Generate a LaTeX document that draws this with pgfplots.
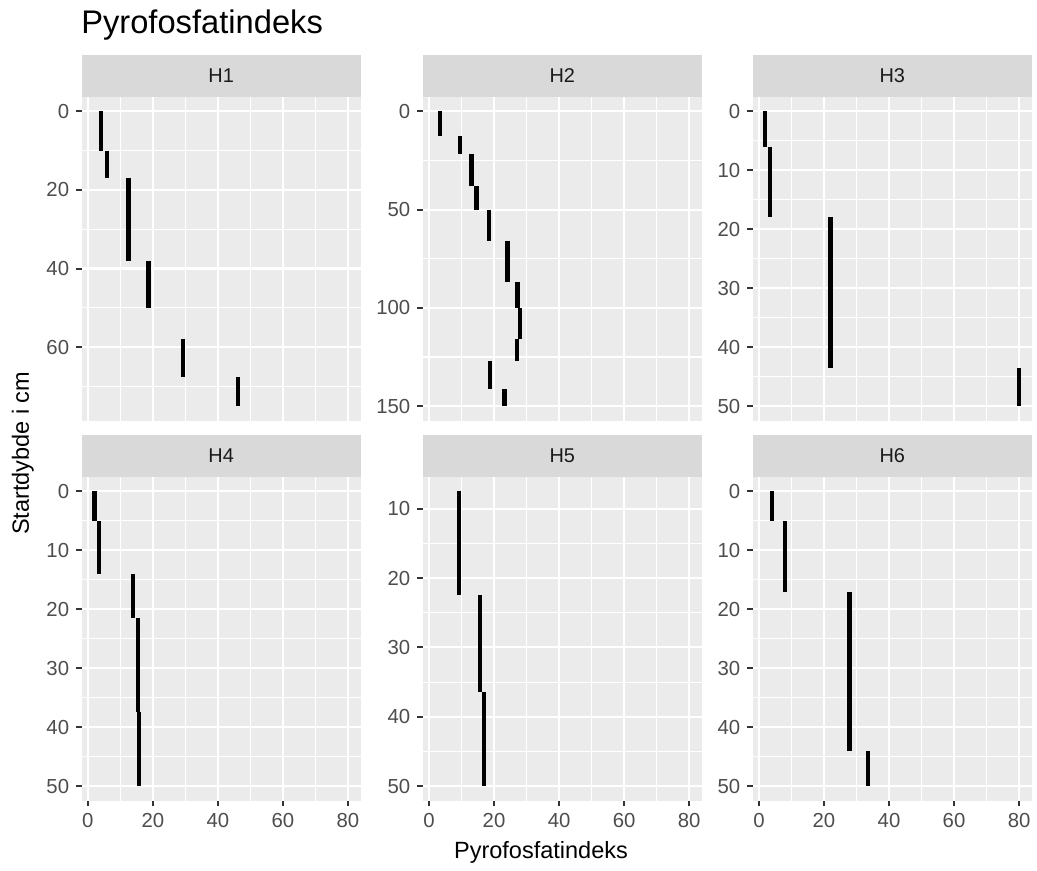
\documentclass[border=0pt]{standalone}
\usepackage{pgfplots}
\pgfplotsset{compat=1.18}
\usepackage{fontspec}
\setmainfont{Liberation Sans}
\definecolor{panelbg}{HTML}{EBEBEB}
\definecolor{stripbg}{HTML}{D9D9D9}
\definecolor{ticklab}{HTML}{4D4D4D}
\definecolor{tickcol}{HTML}{333333}
\definecolor{striptext}{HTML}{1A1A1A}
\pgfplotsset{
  facet/.style={
    scale only axis, width=140pt, height=162.7pt, anchor=north west,
    axis background/.style={fill=panelbg},
    axis line style={draw=none},
    y dir=reverse,
    xmin=-1.9, xmax=83.9,
    xtick={0,20,40,60,80}, minor xtick={10,30,50,70},
    grid=both,
    major grid style={white, line width=1.1pt},
    minor grid style={white, line width=0.55pt},
    tick align=outside, tick pos=left,
    major tick length=2.8pt, minor tick length=0pt,
    every tick/.append style={tickcol, line width=1pt},
    ticklabel style={font=\fontsize{10.2}{12}\selectfont, text=ticklab},
    /pgf/number format/assume math mode=true,
  },
  seg/.style={black, line width=2.2pt, line cap=butt, unbounded coords=jump, mark=none},
  toprow/.style={xticklabels={}, xtick style={draw=none}},
}
\newcommand{\strip}[2]{%
  \fill[stripbg] (#1.north west) rectangle ([yshift=21pt]#1.north east);
  \node[font=\fontsize{10}{12}\selectfont, text=striptext] at ([yshift=10.5pt]#1.north) {#2};
}
\begin{document}
\begin{tikzpicture}
\path (0,0) rectangle (518.5pt,-436pt);
\node[anchor=base west, inner sep=0pt, font=\fontsize{16.4}{19}\selectfont] at (40.6pt,-16.6pt) {Pyrofosfatindeks};

% H1
\begin{axis}[facet, toprow, name=h1, at={(41pt,-48.5pt)},
  ymin=-3.75, ymax=78.75, ytick={0,20,40,60}, minor ytick={10,30,50,70}]
\addplot[seg] coordinates {(4.1,0) (4.1,10) (nan,nan) (5.8,10) (5.8,17) (nan,nan)
  (12.5,17) (12.5,38) (nan,nan) (18.6,38) (18.6,50) (nan,nan)
  (29.2,58) (29.2,67.5) (nan,nan) (46.1,67.5) (46.1,75)};
\end{axis}
\strip{h1}{H1}

% H2
\begin{axis}[facet, toprow, name=h2, at={(212.2pt,-48.5pt)},
  ymin=-7.5, ymax=157.5, ytick={0,50,100,150}, minor ytick={25,75,125}]
\addplot[seg] coordinates {(3.3,0) (3.3,12.5) (nan,nan) (9.6,12.5) (9.6,21.5) (nan,nan)
  (13.1,21.5) (13.1,38) (nan,nan) (14.6,38) (14.6,50) (nan,nan)
  (18.5,50) (18.5,66) (nan,nan) (24.2,66) (24.2,87) (nan,nan)
  (27.2,87) (27.2,100) (nan,nan) (28,100) (28,116) (nan,nan)
  (27.1,116) (27.1,127) (nan,nan) (18.7,127) (18.7,141.5) (nan,nan)
  (23.2,141.5) (23.2,150)};
\end{axis}
\strip{h2}{H2}

% H3
\begin{axis}[facet, toprow, name=h3, at={(377.8pt,-48.5pt)},
  ymin=-2.5, ymax=52.5, ytick={0,10,20,30,40,50}, minor ytick={5,15,25,35,45}]
\addplot[seg] coordinates {(1.8,0) (1.8,6) (nan,nan) (3.3,6) (3.3,18) (nan,nan)
  (22,18) (22,43.5) (nan,nan) (80,43.5) (80,50)};
\end{axis}
\strip{h3}{H3}

% H4
\begin{axis}[facet, name=h4, at={(41pt,-239.2pt)},
  ymin=-2.5, ymax=52.5, ytick={0,10,20,30,40,50}, minor ytick={5,15,25,35,45}]
\addplot[seg] coordinates {(2.0,0) (2.0,5) (nan,nan) (3.5,5) (3.5,14) (nan,nan)
  (13.9,14) (13.9,21.5) (nan,nan) (15.5,21.5) (15.5,37.5) (nan,nan)
  (15.7,37.5) (15.7,50)};
\end{axis}
\strip{h4}{H4}

% H5
\begin{axis}[facet, name=h5, at={(212.2pt,-239.2pt)},
  ymin=5.375, ymax=52.125, ytick={10,20,30,40,50}, minor ytick={15,25,35,45}]
\addplot[seg] coordinates {(9.3,7.5) (9.3,22.5) (nan,nan) (15.7,22.5) (15.7,36.5) (nan,nan)
  (17,36.5) (17,50)};
\end{axis}
\strip{h5}{H5}

% H6
\begin{axis}[facet, name=h6, at={(377.8pt,-239.2pt)},
  ymin=-2.5, ymax=52.5, ytick={0,10,20,30,40,50}, minor ytick={5,15,25,35,45}]
\addplot[seg] coordinates {(4.1,0) (4.1,5) (nan,nan) (8.0,5) (8.0,17) (nan,nan)
  (27.8,17) (27.8,44) (nan,nan) (33.6,44) (33.6,50)};
\end{axis}
\strip{h6}{H6}

\node[anchor=base, font=\fontsize{11.8}{14}\selectfont] at (271.5pt,-431pt) {Pyrofosfatindeks};
\node[rotate=90, font=\fontsize{11.8}{14}\selectfont] at (11.5pt,-227.5pt) {Startdybde i cm};
\end{tikzpicture}
\end{document}
